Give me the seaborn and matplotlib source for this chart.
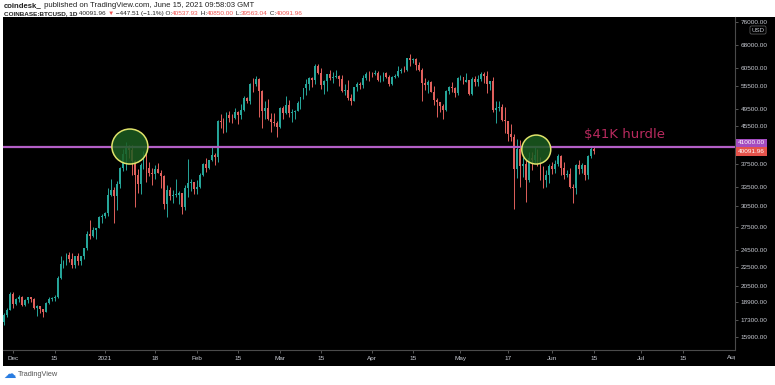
import matplotlib
matplotlib.use('Agg')
import numpy as np
import pandas as pd
import matplotlib.pyplot as plt
import matplotlib.dates as mdates
import seaborn as sns
from matplotlib.patches import Ellipse, Rectangle
from matplotlib.ticker import FixedLocator, FixedFormatter, NullLocator

# daily BTCUSD candles, 2020-11-28 .. 2021-06-15
first_day = '2020-11-28'
opens = [17150, 17720, 18180, 19700, 18770, 19210, 19430, 18660, 19150, 19360,
         19170, 18320, 18550, 18250, 18040, 18800, 19170, 19270, 19430, 21350,
         22800, 23130, 23860, 23480, 22740, 23830, 23240, 23730, 24690, 26480,
         26280, 27040, 27370, 28880, 29000, 29400, 32200, 33000, 31990, 33950,
         36830, 39470, 40670, 40240, 38240, 35540, 34020, 37390, 39160, 36830,
         36030, 35820, 36630, 35920, 35470, 30830, 33010, 32080, 32270, 32280,
         32470, 30360, 33400, 34280, 34310, 33110, 33520, 35510, 37670, 36930,
         38290, 39260, 38870, 46450, 46400, 44840, 47970, 47360, 47150, 48590,
         47930, 49150, 52120, 51550, 55900, 55840, 57410, 54090, 48890, 49680,
         47070, 46280, 46110, 45140, 49610, 48420, 50350, 48370, 48760, 48880,
         50960, 52370, 54880, 55850, 57800, 57220, 61180, 59000, 55600, 56900,
         58910, 57650, 58030, 58100, 57350, 54080, 54340, 52300, 51300, 55050,
         55840, 55780, 57620, 58780, 58760, 58720, 58970, 57070, 58200, 59120,
         57990, 55950, 58080, 58090, 59770, 60000, 59860, 63580, 62960, 63220,
         61380, 60020, 56150, 55700, 56480, 53790, 51700, 51150, 50100, 49080,
         54020, 55040, 54860, 53580, 57750, 57830, 56630, 57200, 53250, 57470,
         56430, 57380, 58930, 58240, 55840, 56750, 49150, 49720, 49880, 46760,
         46450, 43550, 42910, 36710, 40600, 37300, 37530, 34720, 38800, 38350,
         39240, 38530, 35660, 34630, 35660, 37300, 36690, 37580, 39190, 36850,
         35540, 35800, 33590, 33400, 37390, 36690, 37340, 35550, 39020, 40538]
highs = [17880, 18350, 19860, 19920, 19340, 19570, 19500, 19180, 19420, 19410,
         19280, 18640, 18560, 18290, 18950, 19410, 19350, 19570, 21560, 23770,
         23280, 24170, 24300, 24100, 23840, 24100, 23780, 24790, 26870, 28400,
         27500, 27400, 28990, 29300, 29600, 33300, 34800, 33600, 34500, 36950,
         40400, 41950, 41380, 41350, 38260, 36600, 37850, 40100, 39700, 37950,
         36850, 37400, 37850, 36400, 35600, 33850, 33450, 32950, 34900, 32900,
         32550, 33800, 38500, 34900, 34350, 34700, 35950, 37700, 38700, 38300,
         40950, 39700, 46750, 48200, 47300, 48650, 48950, 48150, 49700, 49000,
         50650, 52600, 52550, 56350, 57550, 58350, 57550, 54200, 51350, 52050,
         48400, 48350, 46650, 49800, 50200, 52650, 51800, 49450, 49200, 51450,
         52400, 54900, 57400, 58000, 58050, 61800, 61700, 60600, 56950, 58950,
         60050, 59450, 59900, 58600, 58400, 55850, 57200, 53250, 55100, 56600,
         56550, 58400, 59400, 59800, 59500, 60050, 59800, 58550, 59300, 59500,
         58650, 58150, 58900, 61200, 60700, 61200, 63800, 64900, 63800, 63550,
         62550, 60450, 57600, 57100, 56800, 55450, 52150, 51200, 50550, 54350,
         55450, 56400, 55200, 58000, 58450, 57950, 59000, 57200, 57950, 58350,
         58650, 59500, 59300, 59600, 56900, 57950, 51400, 51550, 50700, 49800,
         46650, 45800, 43550, 42500, 42250, 38850, 38300, 39900, 39850, 40850,
         40400, 38850, 37300, 36450, 37550, 37900, 38250, 39500, 39250, 37900,
         36450, 36800, 34050, 37550, 38400, 37700, 37450, 39350, 41000, 40850]
lows = [16880, 17540, 18180, 18330, 18650, 18920, 18580, 18500, 18860, 18900,
        18250, 17650, 17910, 17580, 18020, 18720, 19000, 19050, 19300, 21230,
        22350, 22750, 23070, 22400, 22370, 22720, 22700, 23450, 24500, 25850,
        26100, 25880, 27330, 28000, 28800, 28950, 32000, 28000, 29900, 33400,
        36300, 36500, 38700, 35550, 30400, 32500, 32400, 36700, 34400, 35400,
        33850, 34850, 35900, 33400, 30100, 28850, 31400, 30900, 31950, 30850,
        29250, 29850, 31950, 32850, 32300, 32300, 33420, 35360, 36200, 36600,
        38220, 37400, 37990, 45000, 43750, 44000, 46250, 46200, 47050, 45800,
        47050, 48950, 50900, 50650, 53900, 55500, 47600, 45000, 47050, 46700,
        44150, 45300, 43000, 45000, 47050, 48100, 47500, 46300, 47100, 48900,
        49300, 51850, 53050, 54300, 55100, 56100, 58950, 54600, 53250, 54100,
        57000, 56300, 57800, 55500, 53700, 53000, 51700, 50400, 51300, 53950,
        54700, 54900, 57000, 56900, 57950, 58450, 56900, 56500, 56800, 57750,
        55450, 55750, 57650, 57850, 59050, 59400, 59800, 61300, 62050, 60000,
        59600, 51500, 54200, 53400, 53650, 50450, 47500, 48800, 47000, 48850,
        53300, 53900, 52400, 53050, 57050, 56050, 56500, 53050, 52900, 55300,
        55300, 56900, 56250, 53450, 54400, 48600, 46000, 48850, 46650, 43800,
        42100, 42200, 30000, 35000, 33500, 35250, 31100, 34450, 36450, 37800,
        37200, 34700, 33400, 33450, 34200, 35700, 35950, 37200, 35600, 34800,
        35250, 33350, 31000, 32400, 35800, 35950, 34650, 34800, 38750, 39563]
closes = opens[1:] + [40091.96]

# axis ticks
price_ticks = [15900, 17300, 18900, 20500, 22500, 24500, 27500, 30500, 33500,
               37500, 45500, 49500, 55500, 60500, 68000, 76000]
date_ticks = ['2020-12-01', '2020-12-15', '2021-01-01', '2021-01-18', '2021-02-01',
              '2021-02-15', '2021-03-01', '2021-03-15', '2021-04-01', '2021-04-15',
              '2021-05-01', '2021-05-17', '2021-06-01', '2021-06-15', '2021-07-01',
              '2021-07-15']
date_labels = ['Dec', '15', '2021', '18', 'Feb', '15', 'Mar', '15', 'Apr', '15',
               'May', '17', 'Jun', '15', 'Jul', '15']

hurdle = 41000
last_close = 40091.96
circles = [('2021-01-09 10:00', 41000), ('2021-05-26 14:00', 40390)]

UP = '#26a69a'
DOWN = '#e0605c'
GRID_TXT = '#c9ccd4'

sns.set_style('dark', {'axes.facecolor': 'black', 'figure.facecolor': 'white'})
plt.rcParams['font.family'] = ['Liberation Sans', 'DejaVu Sans']

W, H = 775, 385
fig = plt.figure(figsize=(W / 100, H / 100), dpi=100)


def fx(px):
    return px / W


def fy(py):
    return 1 - py / H


# black chart panel incl. price and time axis
fig.patches.append(Rectangle((fx(3), fy(366)), fx(775) - fx(3), fy(17) - fy(366),
                             transform=fig.transFigure, facecolor='black',
                             edgecolor='none', zorder=-5))

ax = fig.add_axes([fx(3), fy(350), fx(735) - fx(3), fy(17) - fy(350)])
ax.set_zorder(1)
ax.set_facecolor('black')

df = pd.DataFrame({'date': pd.date_range(first_day, periods=len(opens), freq='D'),
                   'open': opens, 'high': highs, 'low': lows, 'close': closes})
up = df['close'] >= df['open']
cols = np.where(up, UP, DOWN)
body_lo = np.minimum(df['open'], df['close'])
body_h = np.maximum(np.abs(df['close'] - df['open']), body_lo * 0.002)

ax.vlines(df['date'], df['low'], df['high'], colors=cols, linewidth=0.7, zorder=2)
ax.bar(df['date'], body_h, bottom=body_lo, width=0.62, color=cols, linewidth=0, zorder=3)

ax.set_yscale('log')
ax.set_ylim(14900, 78100)
ax.set_xlim(pd.Timestamp('2020-11-27 14:00'), pd.Timestamp('2021-08-01 16:00'))

ax.yaxis.tick_right()
ax.yaxis.set_major_locator(FixedLocator(price_ticks))
ax.yaxis.set_major_formatter(FixedFormatter([f'{p:.2f}' for p in price_ticks]))
ax.yaxis.set_minor_locator(NullLocator())
ax.xaxis.set_major_locator(FixedLocator(mdates.date2num(pd.to_datetime(date_ticks))))
ax.xaxis.set_major_formatter(FixedFormatter(date_labels))
ax.xaxis.set_minor_locator(NullLocator())
ax.tick_params(axis='y', colors='#777777', labelcolor=GRID_TXT, labelsize=4.6,
               length=2.5, width=0.5, pad=1.8, right=True, left=False)
ax.tick_params(axis='x', colors='#777777', labelcolor=GRID_TXT, labelsize=4.6,
               length=1.8, width=0.5, pad=2.5, bottom=True)
ax.grid(False)
for s in ['top', 'left']:
    ax.spines[s].set_visible(False)
for s in ['right', 'bottom']:
    ax.spines[s].set_color('#4a4a4a')
    ax.spines[s].set_linewidth(0.8)

# hurdle line and annotations
ax.axhline(hurdle, color='#b35fc6', linewidth=1.6, zorder=4)
ax.text(pd.Timestamp('2021-06-11 18:00'), 43550, '$41K hurdle', color='#b82a5e',
        fontsize=9.5, ha='left', va='center', zorder=6, family='DejaVu Sans')

fig.canvas.draw()
ax_w, ax_h = ax.bbox.width, ax.bbox.height
for (d, p), (w, h) in zip(circles, [(36, 35), (29, 29)]):
    xy = ax.transAxes.inverted().transform(
        ax.transData.transform((mdates.date2num(pd.Timestamp(d)), p)))
    ax.add_patch(Ellipse(xy, w / ax_w, h / ax_h, transform=ax.transAxes,
                         facecolor=(0.11, 0.36, 0.13, 0.85), edgecolor='#dfe36a',
                         linewidth=1.1, zorder=5))

# Aug label, cut by the price axis
aug = ax.text(mdates.date2num(pd.Timestamp('2021-08-01')), -0.024, 'Aug',
              transform=ax.get_xaxis_transform(), ha='center', va='center',
              fontsize=4.6, color=GRID_TXT)
aug.set_clip_on(True)
aug.set_clip_box(fig.transFigure.transform_bbox(
    matplotlib.transforms.Bbox([[0, 0], [fx(735), 1]])))

# price-axis labels
ax.annotate('41000.00', xy=(1, hurdle), xycoords=('axes fraction', 'data'),
            xytext=(2.2, 2.6), textcoords='offset points', ha='left', va='center',
            fontsize=4.6, color='white', annotation_clip=False,
            bbox=dict(boxstyle='square,pad=0.3', fc='#a44cc0', ec='none'))
ax.annotate(f'{last_close:.2f}', xy=(1, last_close), xycoords=('axes fraction', 'data'),
            xytext=(2.2, -0.4), textcoords='offset points', ha='left', va='center',
            fontsize=4.6, color='white', annotation_clip=False,
            bbox=dict(boxstyle='square,pad=0.3', fc='#e5534b', ec='none'))
fig.text(fx(758), fy(30), 'USD', fontsize=4.4, color=GRID_TXT, ha='center', va='center',
         zorder=3, bbox=dict(boxstyle='round,pad=0.25', fc='black', ec='#666666', lw=0.5))

# header
renderer = fig.canvas.get_renderer()


def text_run(x, y, parts, size):
    for s, color, weight in parts:
        t = fig.text(x, y, s, color=color, fontsize=size, fontweight=weight,
                     ha='left', va='center')
        x = t.get_window_extent(renderer=renderer).x1 / fig.bbox.width


RED = '#ef5350'
DARK = '#222222'
text_run(fx(4), fy(5.5), [('coindesk_', DARK, 'bold'),
                          (' published on TradingView.com, June 15, 2021 09:58:03 GMT', DARK, 'normal')],
         5.6)
text_run(fx(4), fy(13.5), [('COINBASE:BTCUSD, 1D', DARK, 'bold'), (' 40091.96 ', DARK, 'normal'),
                           ('\u25bc', RED, 'normal'), (' \u2212447.51 (\u22121.1%) O:', DARK, 'normal'),
                           ('40537.93', RED, 'normal'), (' H:', DARK, 'normal'),
                           ('40850.00', RED, 'normal'), (' L:', DARK, 'normal'),
                           ('39563.04', RED, 'normal'), (' C:', DARK, 'normal'),
                           ('40091.96', RED, 'normal')], 4.6)

# TradingView footer
fig.text(fx(3), fy(378), '\u2601', fontsize=9, color='#2a7de1', ha='left', va='baseline',
         family='DejaVu Sans')
fig.text(fx(18), fy(375), 'TradingView', fontsize=5.3, color='#555555', ha='left', va='center')

fig.savefig('out.png', dpi=100, facecolor='white')
